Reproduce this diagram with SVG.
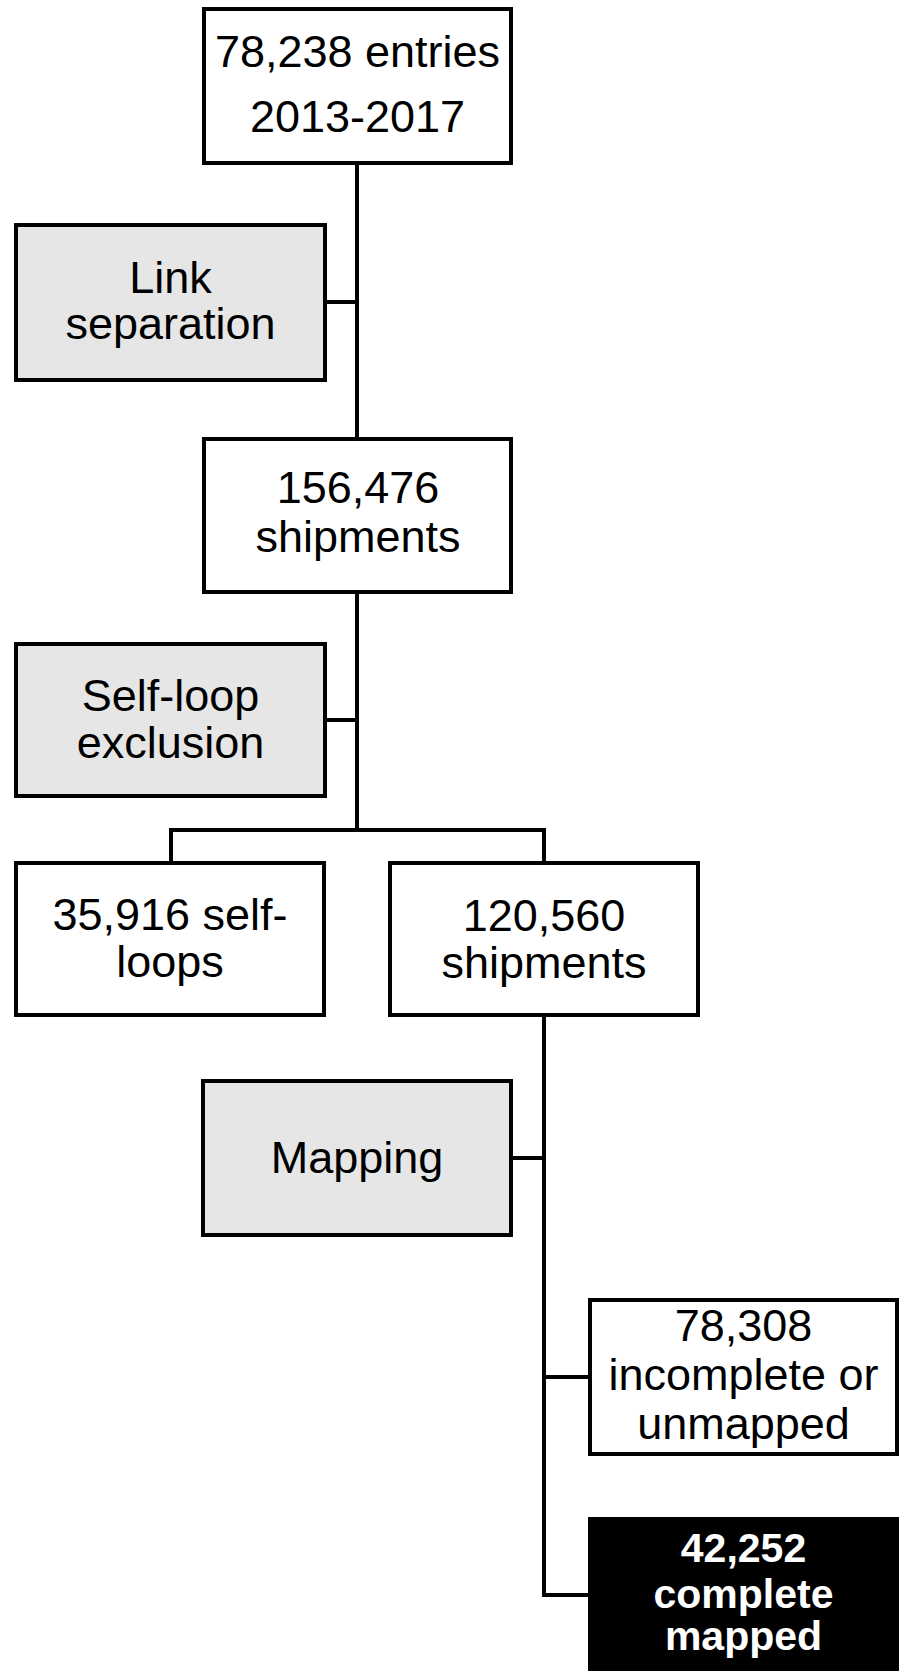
<svg xmlns="http://www.w3.org/2000/svg" width="899" height="1671" viewBox="0 0 899 1671">
<style>
.box{fill:#ffffff;stroke:#000000;stroke-width:4}
.proc{fill:#e6e6e6;stroke:#000000;stroke-width:4}
.dark{fill:#000000;stroke:#000000;stroke-width:4}
.t{font-family:"Liberation Sans",Arial,Helvetica,sans-serif;font-size:45px;fill:#000000;text-anchor:middle}
.tb{font-family:"Liberation Sans",Arial,Helvetica,sans-serif;font-size:41px;font-weight:bold;fill:#ffffff;text-anchor:middle}
.c{fill:none;stroke:#000000;stroke-width:4}
</style>
<rect width="899" height="1671" fill="#ffffff"/>
<g id="connectors">
<path class="c" d="M357 165 V437"/>
<path class="c" d="M327 302 H357"/>
<path class="c" d="M357 594 V830"/>
<path class="c" d="M327 720 H357"/>
<path class="c" d="M171 861 V830 H544 V861"/>
<path class="c" d="M544 1017 V1595 H590"/>
<path class="c" d="M513 1158 H544"/>
<path class="c" d="M544 1377 H590"/>
</g>
<g id="n1">
<rect class="box" x="204" y="9" width="307" height="154"/>
<text class="t" x="357.5" y="67">78,238 entries</text>
<text class="t" x="357.5" y="132">2013-2017</text>
</g>
<g id="n2">
<rect class="proc" x="16" y="225" width="309" height="155"/>
<text class="t" x="170.5" y="293">Link</text>
<text class="t" x="170.5" y="339">separation</text>
</g>
<g id="n3">
<rect class="box" x="204" y="439" width="307" height="153"/>
<text class="t" x="358" y="503">156,476</text>
<text class="t" x="358" y="552">shipments</text>
</g>
<g id="n4">
<rect class="proc" x="16" y="644" width="309" height="152"/>
<text class="t" x="170.5" y="711">Self-loop</text>
<text class="t" x="170.5" y="758">exclusion</text>
</g>
<g id="n5">
<rect class="box" x="16" y="863" width="308" height="152"/>
<text class="t" x="170" y="930">35,916 self-</text>
<text class="t" x="170" y="977">loops</text>
</g>
<g id="n6">
<rect class="box" x="390" y="863" width="308" height="152"/>
<text class="t" x="544" y="931">120,560</text>
<text class="t" x="544" y="978">shipments</text>
</g>
<g id="n7">
<rect class="proc" x="203" y="1081" width="308" height="154"/>
<text class="t" x="357" y="1173">Mapping</text>
</g>
<g id="n8">
<rect class="box" x="590" y="1300" width="307" height="154"/>
<text class="t" x="743.5" y="1341">78,308</text>
<text class="t" x="743.5" y="1390">incomplete or</text>
<text class="t" x="743.5" y="1439">unmapped</text>
</g>
<g id="n9">
<rect class="dark" x="590" y="1519" width="311" height="160"/>
<text class="tb" x="743.5" y="1562">42,252</text>
<text class="tb" x="743.5" y="1608">complete</text>
<text class="tb" x="743.5" y="1650">mapped</text>
</g>
</svg>
